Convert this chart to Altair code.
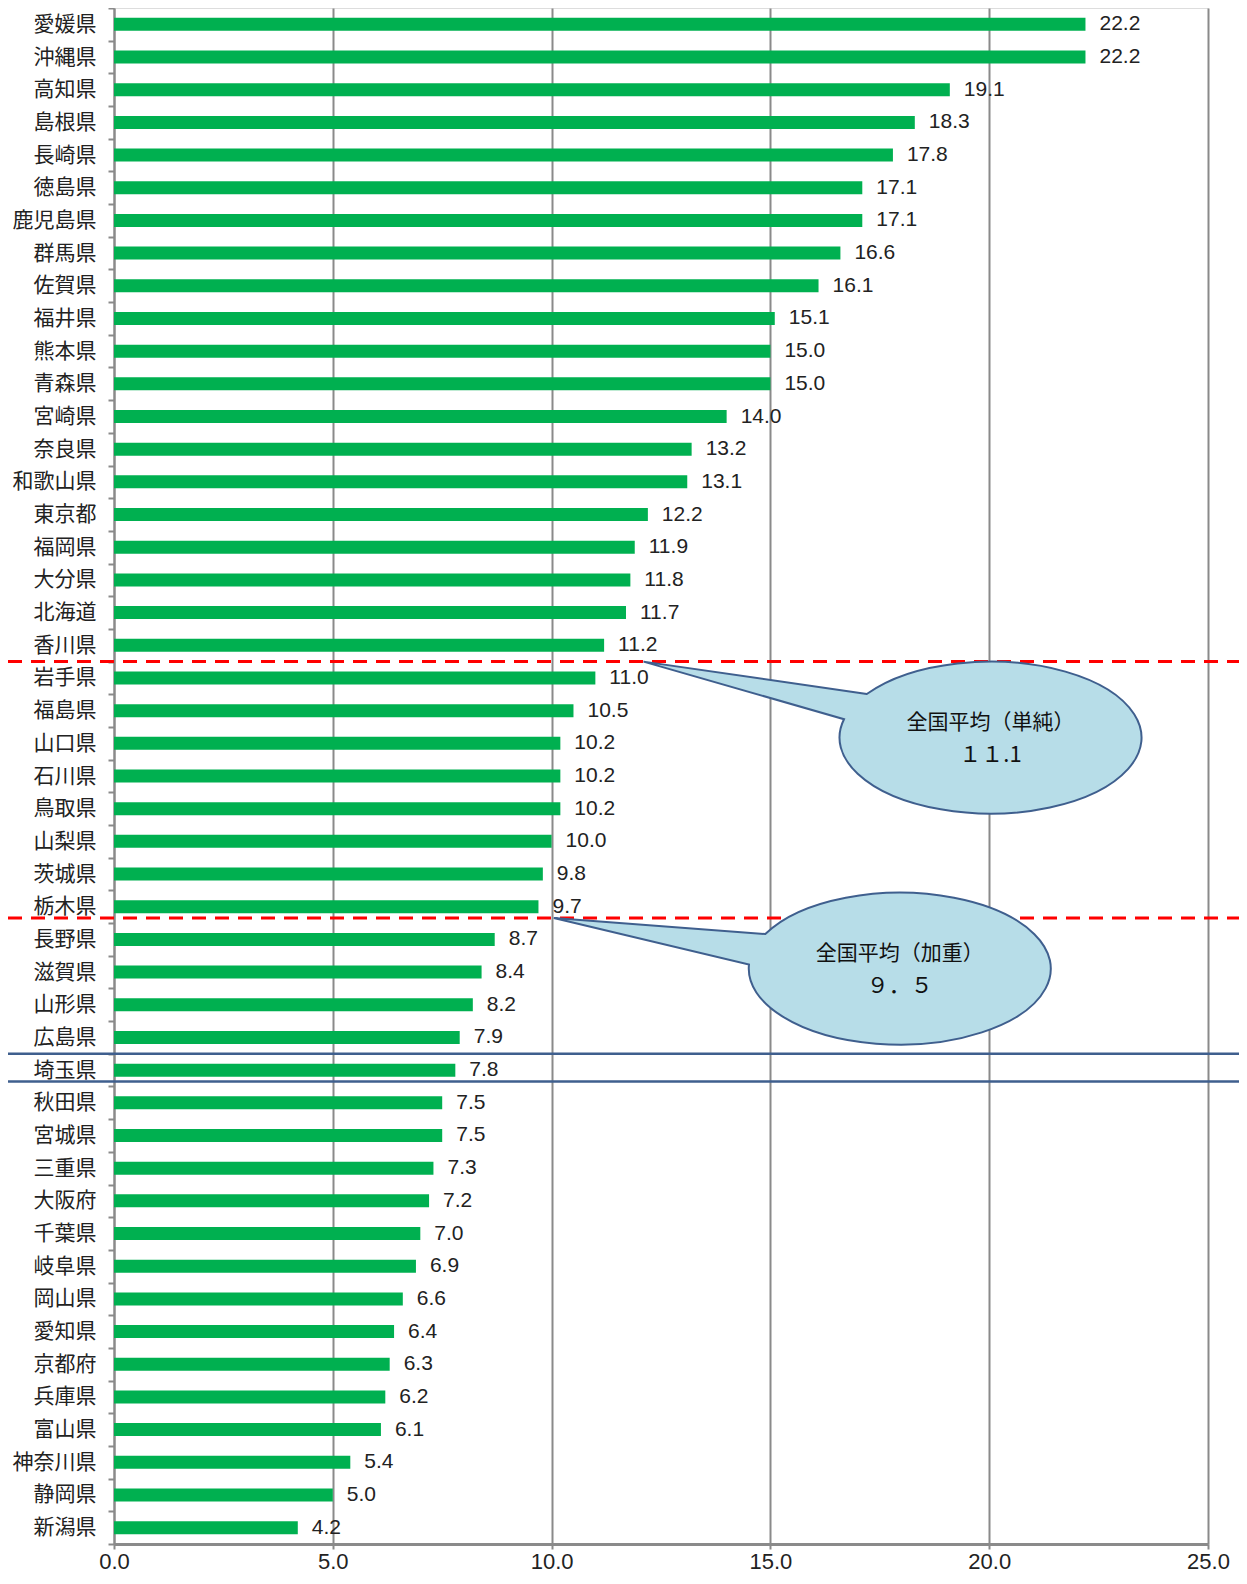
import math
import altair as alt
import pandas as pd

# ---------------- data ----------------
prefectures = [
    "愛媛県", "沖縄県", "高知県", "島根県", "長崎県", "徳島県", "鹿児島県", "群馬県",
    "佐賀県", "福井県", "熊本県", "青森県", "宮崎県", "奈良県", "和歌山県", "東京都",
    "福岡県", "大分県", "北海道", "香川県", "岩手県", "福島県", "山口県", "石川県",
    "鳥取県", "山梨県", "茨城県", "栃木県", "長野県", "滋賀県", "山形県", "広島県",
    "埼玉県", "秋田県", "宮城県", "三重県", "大阪府", "千葉県", "岐阜県", "岡山県",
    "愛知県", "京都府", "兵庫県", "富山県", "神奈川県", "静岡県", "新潟県",
]
values = [
    22.2, 22.2, 19.1, 18.3, 17.8, 17.1, 17.1, 16.6,
    16.1, 15.1, 15.0, 15.0, 14.0, 13.2, 13.1, 12.2,
    11.9, 11.8, 11.7, 11.2, 11.0, 10.5, 10.2, 10.2,
    10.2, 10.0, 9.8, 9.7, 8.7, 8.4, 8.2, 7.9,
    7.8, 7.5, 7.5, 7.3, 7.2, 7.0, 6.9, 6.6,
    6.4, 6.3, 6.2, 6.1, 5.4, 5.0, 4.2,
]
x_ticks = [0, 5, 10, 15, 20, 25]

callout_titles = ["全国平均（単純）", "全国平均（加重）"]
callout_values = ["１１.1", "９．５"]
callout_tip_x = [12.1, 10.05]
callout_tip_pref = ["岩手県", "長野県"]

df = pd.DataFrame({"pref": prefectures, "value": values})

# ---------------- layout ----------------
W = 1094
H = 1536
PAD_L = 106
PAD_R = 31
PAD_B = 30

GRID = "#8a8a8a"
BAR = "#00B050"
FONT_JP = "Noto Sans CJK JP"
FONT_NUM = "Liberation Sans"
TXT = "#222222"


def y_enc(band_pos=None):
    kw = {}
    if band_pos is not None:
        kw["bandPosition"] = band_pos
    return alt.Y(
        "pref:N",
        scale=alt.Scale(domain=prefectures, paddingInner=0, paddingOuter=0),
        axis=alt.Axis(
            title=None, labelFont=FONT_JP, labelFontSize=21, labelColor=TXT,
            tickBand="extent", tickSize=6, tickColor=GRID, tickWidth=2,
            domainColor=GRID, domainWidth=2, labelPadding=12, grid=False,
        ),
        **kw,
    )


def x_enc(field):
    return alt.X(
        f"{field}:Q",
        scale=alt.Scale(domain=[0, 25], nice=False, zero=True),
        axis=alt.Axis(
            values=x_ticks, format=".1f", title=None, grid=True, gridColor=GRID,
            gridWidth=2, domainColor=GRID, domainWidth=3, tickColor=GRID,
            tickSize=5, tickWidth=2, labelFont=FONT_NUM, labelFontSize=22,
            labelColor=TXT, labelPadding=2, labelFlush=False,
        ),
    )


bars = alt.Chart(df).mark_bar(size=13, color=BAR).encode(
    x=x_enc("value"), y=y_enc()
)

labels = alt.Chart(df).mark_text(
    align="left", baseline="middle", dx=14, fontSize=21, font=FONT_NUM, color=TXT
).encode(x=x_enc("value"), y=y_enc(), text=alt.Text("value:Q", format=".1f"))


def hrule(cat, offset, color, width, dash=None):
    d = pd.DataFrame({"pref": [cat]})
    kw = dict(color=color, strokeWidth=width, yOffset=offset)
    if dash:
        kw["strokeDash"] = dash
    return alt.Chart(d).mark_rule(**kw).encode(
        y=y_enc(0), x=alt.value(-PAD_L), x2=alt.value(W + PAD_R)
    )


red1 = hrule("岩手県", 0, "#FF0000", 3, [14, 9])
red2 = hrule("長野県", -5, "#FF0000", 3, [14, 9])
blue1 = hrule("埼玉県", 0, "#3F5F8E", 2.5)
blue2 = hrule("秋田県", -5, "#3F5F8E", 2.5)


def callout_path(cx, cy, rx, ry, a1, a2):
    b1x = cx + rx * math.cos(math.radians(a1))
    b1y = cy + ry * math.sin(math.radians(a1))
    b2x = cx + rx * math.cos(math.radians(a2))
    b2y = cy + ry * math.sin(math.radians(a2))
    return (f"M {b1x:.1f} {b1y:.1f} L 0 0 L {b2x:.1f} {b2y:.1f} "
            f"A {rx} {ry} 0 1 0 {b1x:.1f} {b1y:.1f} Z")


# geometry of each bubble relative to its tail tip (cx, cy, rx, ry, angle1, angle2, offset)
bubble_geom = [
    (347, 76, 151, 76, 215, 194, 0),
    (346, 50.5, 151, 76, 207, 183, -5),
]

callout_layers = []
for i in range(2):
    cx, cy, rx, ry, a1, a2, off = bubble_geom[i]
    d = pd.DataFrame({
        "tx": [callout_tip_x[i]], "pref": [callout_tip_pref[i]],
        "title": [callout_titles[i]], "val": [callout_values[i]],
    })
    base = alt.Chart(d)
    shape = base.mark_point(
        shape=callout_path(cx, cy, rx, ry, a1, a2), size=4, filled=True,
        fill="#B7DDE8", stroke="#3F5F8E", strokeWidth=2, opacity=1, fillOpacity=1,
        yOffset=off,
    ).encode(x=x_enc("tx"), y=y_enc(0))
    t1 = base.mark_text(
        align="center", baseline="middle", dx=cx, dy=cy - 15 + off,
        fontSize=21, font=FONT_JP, color="#111111",
    ).encode(x=x_enc("tx"), y=y_enc(0), text="title:N")
    t2 = base.mark_text(
        align="center", baseline="middle", dx=cx, dy=cy + 17 + off,
        fontSize=22, font=FONT_JP, color="#111111",
    ).encode(x=x_enc("tx"), y=y_enc(0), text="val:N")
    callout_layers += [shape, t1, t2]

chart = alt.layer(
    bars, labels, red1, red2, blue1, blue2, *callout_layers
).properties(
    width=W, height=H,
    autosize=alt.AutoSizeParams(type="none"),
    padding={"left": PAD_L, "top": 0, "right": PAD_R, "bottom": PAD_B},
).configure_view(stroke=None).configure(background="white")

chart.save("out.html", embed_options={"renderer": "svg", "actions": False})
